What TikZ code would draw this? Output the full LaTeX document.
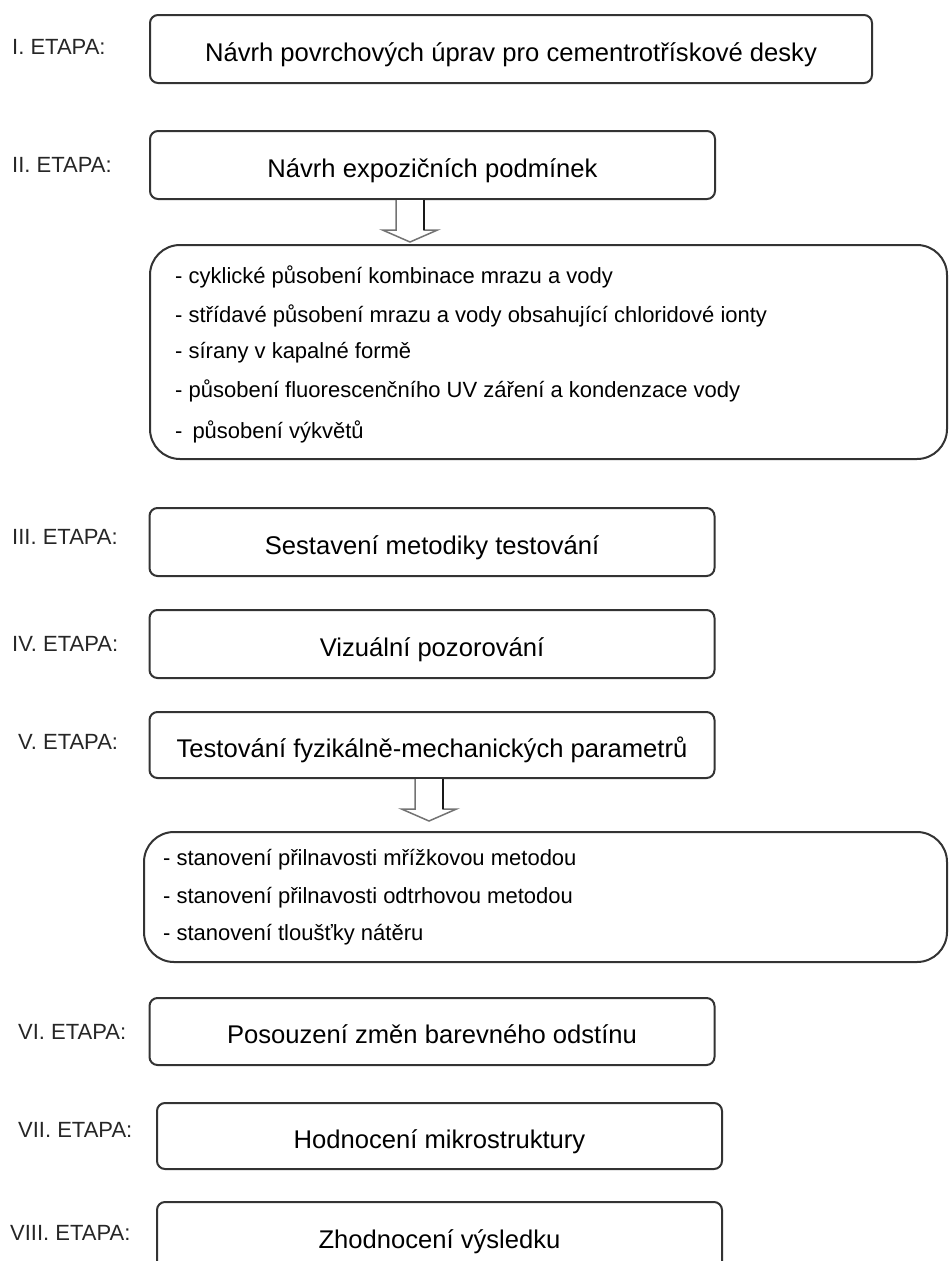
\documentclass[tikz,border=0pt]{standalone}
\usepackage{fontspec}
\setmainfont{Liberation Sans}
\usetikzlibrary{calc}

\tikzset{
  etapa/.style={anchor=west, inner sep=0pt, text=black!85, font=\fontsize{22}{26}\selectfont},
  krok/.style={draw=black!80, line width=2pt, rounded corners=8pt, minimum width=565pt,
               minimum height=68pt, text height=24pt, text depth=0pt,
               font=\fontsize{25.6}{30}\selectfont},
  seznam/.style={draw=black!80, line width=2pt, rounded corners=30pt},
  polozka/.style={anchor=west, inner sep=0pt, text height=16pt, text depth=5pt,
                  font=\fontsize{22}{26}\selectfont},
  sipka/.style={draw=black!55, line width=1.5pt, fill=white}
}

\begin{document}
\begin{tikzpicture}[x=1pt, y=-1pt]
\useasboundingbox (0,0) rectangle (949,1261);

% boxes of the stages
\node[krok, minimum width=722pt] (navrh) at (511,49) {Návrh povrchových úprav pro cementrotřískové desky};
\node[krok] (podm) at (432.5,165) {Návrh expozičních podmínek};
\node[krok] (metod) at (432,542) {Sestavení metodiky testování};
\node[krok] (vizual) at (432,644) {Vizuální pozorování};
\node[krok, minimum height=66pt] (test) at (432,745) {Testování fyzikálně-mechanických parametrů};
\node[krok, minimum height=67pt] (odstin) at (432,1031.5) {Posouzení změn barevného odstínu};
\node[krok, minimum height=66pt] (mikro) at (439.5,1136) {Hodnocení mikrostruktury};
\node[krok] (vysl) at (439.5,1236) {Zhodnocení výsledku};

% stage labels
\node[etapa] (e1) at (12,47) {I. ETAPA:};
\node[etapa] (e2) at (12,165) {II. ETAPA:};
\node[etapa] (e3) at (12,537) {III. ETAPA:};
\node[etapa] (e4) at (12,644) {IV. ETAPA:};
\node[etapa] (e5) at (18,742) {V. ETAPA:};
\node[etapa] (e6) at (18,1032) {VI. ETAPA:};
\node[etapa] (e7) at (18,1130) {VII. ETAPA:};
\node[etapa] (e8) at (10,1233) {VIII. ETAPA:};

% lists
\node[seznam, minimum width=797pt, minimum height=214pt] (podminky) at (548.5,352) {};
\node[seznam, minimum width=803pt, minimum height=130pt] (merani) at (545.5,897) {};

\foreach \y/\t in {277.5/{- cyklické působení kombinace mrazu a vody},
                   316.5/{- střídavé působení mrazu a vody obsahující chloridové ionty},
                   352.5/{- sírany v kapalné formě},
                   391.5/{- působení fluorescenčního UV záření a kondenzace vody},
                   432.5/{-\hspace{10pt}působení výkvětů}}
    \node[polozka] at (175,\y) {\t};

\foreach \y/\t in {859.5/{- stanovení přilnavosti mřížkovou metodou},
                   897.5/{- stanovení přilnavosti odtrhovou metodou},
                   934.5/{- stanovení tloušťky nátěru}}
    \node[polozka] at (163,\y) {\t};

% hollow arrows
\foreach \n/\dx in {podm/-22.5, test/-3}{
    \draw[sipka] ($(\n.south)+(\dx-14,0)$) -- ++(0,30) -- ++(-13.5,0) -- ++(27.5,12)
        -- ++(27.5,-12) -- ++(-13.5,0) -- ++(0,-30);
    \draw[black!90, line width=1.5pt] ($(\n.south)+(\dx+14,0)$) -- ++(0,30);
}

\end{tikzpicture}
\end{document}
